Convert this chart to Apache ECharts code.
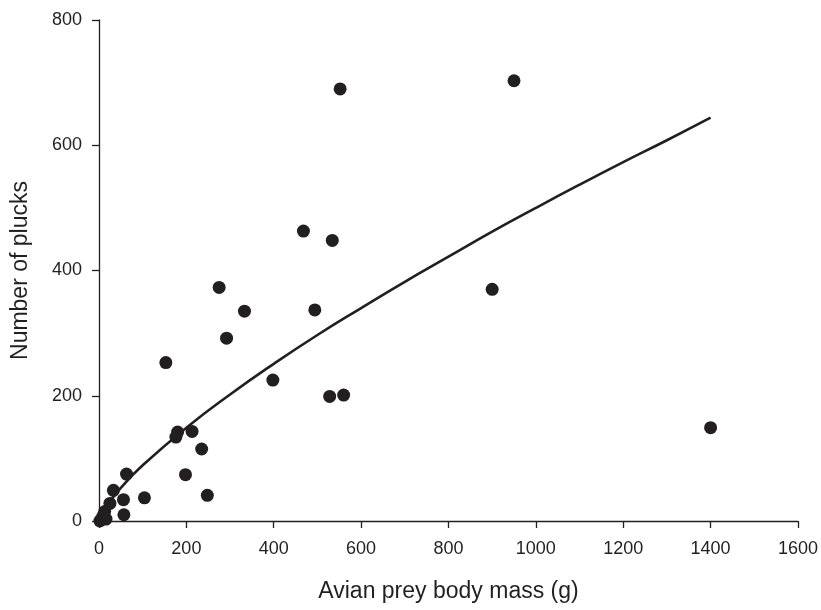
<!DOCTYPE html>
<html>
<head>
<meta charset="utf-8">
<script src="https://cdn.jsdelivr.net/npm/echarts@6/dist/echarts.min.js"></script>
<style>
  html, body { margin: 0; padding: 0; background: #fff; }
  #chart { width: 821px; height: 610px; }
</style>
</head>
<body>
<div id="chart"></div>
<script>
// Observed prey: body mass (g) and number of plucks
const preyMass = [153, 275, 333, 292, 468, 534, 494, 398, 528, 560, 552, 950, 900, 1400,
                  180, 176, 213, 235, 198, 248, 104, 63, 33, 56, 57, 25, 2, 6, 10, 13, 16];
const plucks   = [253, 373, 335, 292, 463, 448, 337, 225, 199, 201, 690, 703, 370, 149,
                  142, 134, 143, 115, 74, 41, 37, 75, 49, 34, 10, 28, 0, 4, 9, 15, 3];

// Fitted curve, sampled along the mass range
const curveMass   = [0, 5, 10, 25, 50, 100, 200, 300, 400, 500, 600, 700, 800, 900, 1000, 1100, 1200, 1300, 1400];
const curvePlucks = [0, 9, 16, 31, 53, 89, 149, 202, 251, 297, 340, 382, 422, 462, 500, 537, 573, 608, 644];

const xTicks = [0, 200, 400, 600, 800, 1000, 1200, 1400, 1600];
const yTicks = [0, 200, 400, 600, 800];

const ink = '#231f20';
const font = "'Liberation Sans', Arial, Helvetica, sans-serif";

const points = preyMass.map((m, i) => [m, plucks[i]]);
const curve = curveMass.map((m, i) => [m, curvePlucks[i]]);

const plain = v => String(v);

const chart = echarts.init(document.getElementById('chart'), null, { renderer: 'canvas' });
chart.setOption({
  animation: false,
  backgroundColor: '#fff',
  grid: { left: 99, right: 23, top: 20, bottom: 89, containLabel: false },
  xAxis: {
    type: 'value',
    min: xTicks[0], max: xTicks[xTicks.length - 1], interval: xTicks[1] - xTicks[0],
    name: 'Avian prey body mass (g)',
    nameLocation: 'middle', nameGap: 59,
    nameTextStyle: { fontFamily: font, fontSize: 23, color: ink },
    axisLine: { lineStyle: { color: ink, width: 1.3 } },
    axisTick: { inside: false, length: 7, lineStyle: { color: ink, width: 1.3 } },
    axisLabel: { fontFamily: font, fontSize: 18, color: ink, margin: 19, formatter: plain },
    splitLine: { show: false }
  },
  yAxis: {
    type: 'value',
    min: yTicks[0], max: yTicks[yTicks.length - 1], interval: yTicks[1] - yTicks[0],
    name: 'Number of plucks',
    nameLocation: 'middle', nameGap: 67, nameRotate: 90,
    nameTextStyle: { fontFamily: font, fontSize: 23, color: ink },
    axisLine: { show: true, lineStyle: { color: ink, width: 1.3 } },
    axisTick: { show: true, inside: false, length: 7, lineStyle: { color: ink, width: 1.3 } },
    axisLabel: { fontFamily: font, fontSize: 18, color: ink, margin: 17, formatter: plain },
    splitLine: { show: false }
  },
  series: [
    {
      type: 'line',
      data: curve,
      smooth: true,
      showSymbol: false,
      lineStyle: { color: ink, width: 2.6 },
      z: 2
    },
    {
      type: 'scatter',
      data: points,
      symbol: 'circle',
      symbolSize: 13,
      itemStyle: { color: ink, opacity: 1 },
      z: 3
    }
  ]
});
</script>
</body>
</html>
